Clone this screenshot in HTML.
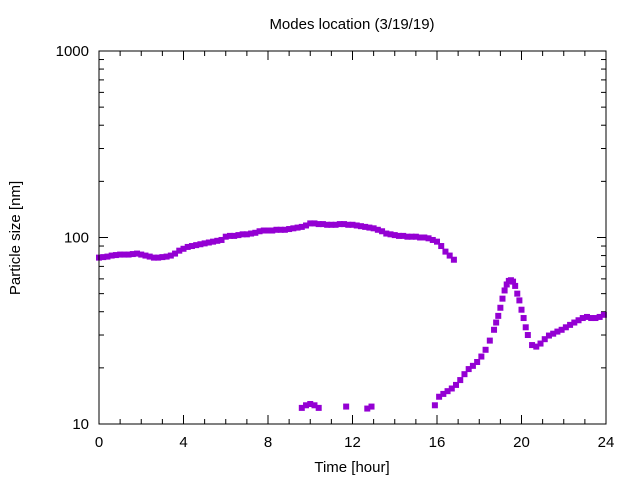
<!DOCTYPE html>
<html><head><meta charset="utf-8"><style>
body{margin:0;background:#fff}
svg{display:block;font-family:"Liberation Sans",sans-serif}
</style></head><body>
<svg id="chart" width="640" height="480">
<text x="352" y="29" font-size="15" text-anchor="middle">Modes location (3/19/19)</text>
<text x="352" y="472" font-size="15" text-anchor="middle">Time [hour]</text>
<text transform="translate(20,238) rotate(-90)" font-size="15" text-anchor="middle">Particle size [nm]</text>
<g id="axes"></g><g id="marks"></g>
<rect x="99" y="51" width="507" height="373" fill="none" stroke="#000" stroke-width="1"/>
</svg>
<script>
const xTicks=[0,4,8,12,16,20,24];
const yTicks=[10,100,1000];
const s1Times=[0,0.2,0.4,0.6,0.8,1,1.2,1.4,1.6,1.8,2,2.2,2.4,2.6,2.8,3,3.2,3.4,3.6,3.8,4,4.2,4.4,4.6,4.8,5,5.2,5.4,5.6,5.8,6,6.2,6.4,6.6,6.8,7,7.2,7.4,7.6,7.8,8,8.2,8.4,8.6,8.8,9,9.2,9.4,9.6,9.8,10,10.2,10.4,10.6,10.8,11,11.2,11.4,11.6,11.8,12,12.2,12.4,12.6,12.8,13,13.2,13.4,13.6,13.8,14,14.2,14.4,14.6,14.8,15,15.2,15.4,15.6,15.8,16,16.2,16.4,16.6,16.8];
const s1Sizes=[78,78.5,79,80,80.5,81,81,81,81.5,82,81,80,79,78,78,78.5,79,80,82,85,87,89,90,91,92,93,94,95,96,97,101,102,102,103,104,104,105,106,108,109,109,109,110,110,110,111,112,113,114,116,119,119,118,118,117,117,117,118,118,117,117,116,115,114,113,112,110,108,105,104,103,102,102,101,101,101,100,100,99,97,95,90,84,80,76];
const s2Times=[9.6,9.8,10,10.2,10.4,11.7,12.7,12.9];
const s2Sizes=[12.2,12.6,12.8,12.6,12.2,12.4,12.1,12.4];
const s3Times=[15.9,16.1,16.3,16.5,16.7,16.9,17.1,17.3,17.5,17.7,17.9,18.1,18.3,18.5,18.7,18.8,18.9,19.0,19.1,19.2,19.3,19.4,19.5,19.6,19.7,19.8,19.9,20.0,20.1,20.2,20.3,20.5,20.7,20.9,21.1,21.3,21.5,21.7,21.9,22.1,22.3,22.5,22.7,22.9,23.1,23.3,23.5,23.7,23.9];
const s3Sizes=[12.6,14,14.5,15,15.5,16.2,17.2,18.5,19.7,20.5,21.5,23,25,28,32,35,38,42,47,52,56,58.5,59,58,55,50,46,41,37,33,30,26.5,26,27,28.5,29.8,30.5,31.3,32,33,34,35,36,37,37.5,37,37,37.5,38.5];
const X0=99,X1=606,Y0=424,Y1=51;
const xS=t=>X0+(t/24)*(X1-X0);
const yS=v=>Y0-(Math.log10(v)-1)/2*(Y0-Y1);
const NS='http://www.w3.org/2000/svg';
const axes=document.getElementById('axes'),marks=document.getElementById('marks');
function ln(x1,y1,x2,y2){const l=document.createElementNS(NS,'line');l.setAttribute('x1',x1);l.setAttribute('y1',y1);l.setAttribute('x2',x2);l.setAttribute('y2',y2);l.setAttribute('stroke','#000');


axes.appendChild(l);}
function tx(x,y,s,a){const t=document.createElementNS(NS,'text');t.setAttribute('x',x);t.setAttribute('y',y);t.setAttribute('font-size','15');t.setAttribute('text-anchor',a);t.textContent=s;


axes.appendChild(t);}
for(let h=0;h<=24;h++){const x=xS(h);const L=h%4===0?9:5;ln(x,Y0,x,Y0-L);ln(x,Y1,x,Y1+L);}
xTicks.forEach(t=>tx(xS(t),447,String(t),'middle'));
for(let d=10;d<1000;d*=10){for(let m=1;m<10;m++){const y=yS(d*m);const L=m===1?9:5;ln(X0,y,X0+L,y);ln(X1,y,X1-L,y);}}
ln(X0,Y1,X0+9,Y1);ln(X1,Y1,X1-9,Y1);
yTicks.forEach(v=>tx(89,yS(v)+5,String(v),'end'));
function series(ts,vs,name){ts.forEach((t,i)=>{const c=document.createElementNS(NS,'rect');const x=xS(t),y=yS(vs[i]);
c.setAttribute('x',x-3);c.setAttribute('y',y-3);c.setAttribute('width',6);c.setAttribute('height',6);c.setAttribute('fill','#9400d3');


marks.appendChild(c);});}
series(s1Times,s1Sizes,'mode1-point');
series(s2Times,s2Sizes,'mode2-point');
series(s3Times,s3Sizes,'mode3-point');
</script>
</body></html>
